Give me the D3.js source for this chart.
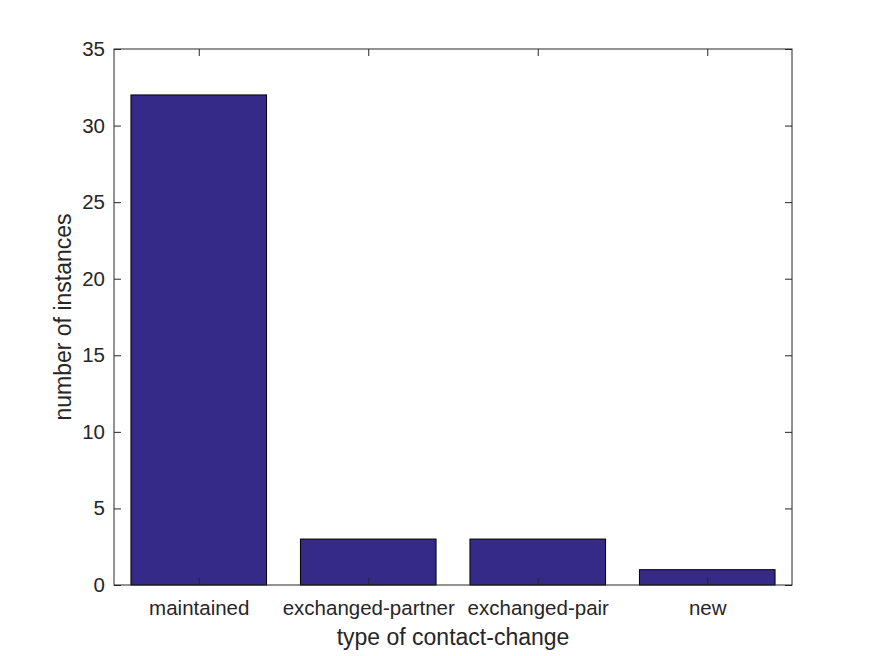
<!DOCTYPE html>
<html>
<head>
<meta charset="utf-8">
<script src="https://cdn.jsdelivr.net/npm/d3@7"></script>
<style>
  body { margin: 0; background: #fff; }
  svg text { font-family: "Liberation Sans", Arial, sans-serif; fill: #262626; }
</style>
</head>
<body>
<div id="chart"></div>
<script>
// data
const categories = ['maintained', 'exchanged-partner', 'exchanged-pair', 'new'];
const counts = [32, 3, 3, 1];
const yTicks = [0, 5, 10, 15, 20, 25, 30, 35];

const W = 875;
const H = 656;
const margin = { top: 49, right: 83, bottom: 71, left: 114 };
const width = W - margin.left - margin.right;
const height = H - margin.top - margin.bottom;
const axisColor = '#262626';
const tickLen = 7;

const svg = d3.select('#chart')
  .append('svg')
  .attr('width', W)
  .attr('height', H);

const g = svg.append('g')
  .attr('transform', `translate(${margin.left},${margin.top})`);

// matlab style: x from 0.5 to n + 0.5, bars 0.8 wide
const xScale = d3.scaleLinear()
  .domain([0.5, categories.length + 0.5])
  .range([0, width]);

const yScale = d3.scaleLinear()
  .domain([0, 35])
  .range([height, 0]);

const barW = xScale(1.4) - xScale(0.6);

g.selectAll('.bar')
  .data(counts)
  .enter()
  .append('rect')
  .attr('class', 'bar')
  .attr('x', (d, i) => xScale(i + 1) - barW / 2)
  .attr('y', (d) => yScale(d))
  .attr('width', barW)
  .attr('height', (d) => yScale(0) - yScale(d))
  .attr('fill', '#352a87')
  .attr('stroke', '#000')
  .attr('stroke-width', 1);

// box
g.append('rect')
  .attr('x', 0)
  .attr('y', 0)
  .attr('width', width)
  .attr('height', height)
  .attr('fill', 'none')
  .attr('stroke', axisColor)
  .attr('stroke-width', 1);

const catIdx = categories.map((c, i) => i + 1);

const xAxis = d3.axisBottom(xScale)
  .tickValues(catIdx)
  .tickFormat((d) => categories[d - 1])
  .tickSizeInner(-tickLen)
  .tickSizeOuter(0)
  .tickPadding(15);

const xg = g.append('g')
  .attr('transform', `translate(0,${height})`)
  .call(xAxis);

const xTop = d3.axisTop(xScale)
  .tickValues(catIdx)
  .tickFormat('')
  .tickSizeInner(-tickLen)
  .tickSizeOuter(0);

const xtg = g.append('g').call(xTop);

const yAxis = d3.axisLeft(yScale)
  .tickValues(yTicks)
  .tickSizeInner(-tickLen)
  .tickSizeOuter(0)
  .tickPadding(9);

const yg = g.append('g').call(yAxis);

const yRight = d3.axisRight(yScale)
  .tickValues(yTicks)
  .tickFormat('')
  .tickSizeInner(-tickLen)
  .tickSizeOuter(0);

const yrg = g.append('g')
  .attr('transform', `translate(${width},0)`)
  .call(yRight);

[xg, xtg, yg, yrg].forEach((a) => {
  a.select('.domain').remove();
  a.selectAll('.tick line').attr('stroke', axisColor);
  a.selectAll('.tick text')
    .attr('fill', axisColor)
    .style('font-size', '20.5px');
});

g.append('text')
  .attr('x', width / 2)
  .attr('y', height + 60)
  .attr('text-anchor', 'middle')
  .style('font-size', '23px')
  .text('type of contact-change');

g.append('text')
  .attr('transform', `translate(${-43},${height / 2}) rotate(-90)`)
  .attr('text-anchor', 'middle')
  .style('font-size', '23px')
  .text('number of instances');
</script>
</body>
</html>
